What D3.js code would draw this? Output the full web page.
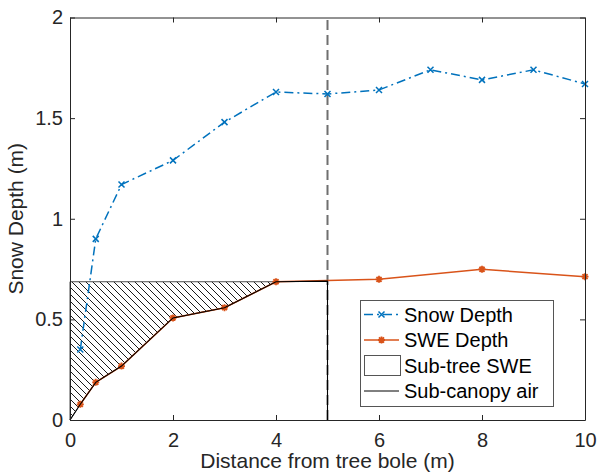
<!DOCTYPE html>
<html>
<head>
<meta charset="utf-8">
<script src="https://cdn.jsdelivr.net/npm/d3@7"></script>
<style>
  body { margin: 0; background: #fff; }
  text { font-family: "Liberation Sans", Arial, sans-serif; fill: #262626; }
</style>
</head>
<body>
<div id="vis"></div>
<script>
// data
const snowDist = [0.2, 0.5, 1, 2, 3, 4, 5, 6, 7, 8, 9, 10];
const snowDepth = [0.35, 0.90, 1.17, 1.29, 1.48, 1.63, 1.62, 1.64, 1.74, 1.69, 1.74, 1.67];
const sweDist = [0.2, 0.5, 1, 2, 3, 4, 6, 8, 10];
const sweDepth = [0.078, 0.187, 0.268, 0.507, 0.558, 0.687, 0.699, 0.749, 0.712];
const canopyEdge = 5;       // edge of the tree canopy (m)
const subTreeTop = 0.687;   // SWE level under the tree
const xTicks = [0, 2, 4, 6, 8, 10];
const yTicks = [0, 0.5, 1, 1.5, 2];
const legendLabels = ["Snow Depth", "SWE Depth", "Sub-tree SWE", "Sub-canopy air"];

const ctx = {
    w: 597,
    h: 476,
    left: 70,
    right: 585,
    top: 17.5,
    bottom: 420,
    axisColor: "#262626",
    blue: "#0072BD",
    orange: "#D95319"
};

function xMark(size) {
    return `M${-size},${-size}L${size},${size}M${-size},${size}L${size},${-size}`;
}
function starMark(size) {
    let s = size, d = size * 0.72;
    return `M${-s},0L${s},0M0,${-s}L0,${s}M${-d},${-d}L${d},${d}M${-d},${d}L${d},${-d}`;
}

function drawChart() {
    let svg = d3.select("#vis").append("svg")
        .attr("width", ctx.w)
        .attr("height", ctx.h);

    let x = d3.scaleLinear().domain([0, 10]).range([ctx.left, ctx.right]);
    let y = d3.scaleLinear().domain([0, 2]).range([ctx.bottom, ctx.top]);

    // hatch pattern for the sub-tree SWE area
    let defs = svg.append("defs");
    let pat = defs.append("pattern")
        .attr("id", "hatch")
        .attr("patternUnits", "userSpaceOnUse")
        .attr("width", 7)
        .attr("height", 7);
    pat.append("path")
        .attr("d", "M-1,-1L8,8M-1,6L1,8M6,-1L8,1")
        .attr("stroke", "#000")
        .attr("stroke-width", 0.9);

    let plot = svg.append("g");

    // sub-tree SWE polygon
    let sweByDist = sweDist.map((d, i) => [d, sweDepth[i]]);
    let under = sweByDist.filter(p => p[0] <= 4);
    let poly = [[0, subTreeTop], [4, subTreeTop]].concat(under.slice(0, -1).reverse()).concat([[0, 0]]);
    plot.append("path")
        .attr("d", d3.line().x(p => x(p[0])).y(p => y(p[1]))(poly) + "Z")
        .attr("fill", "url(#hatch)")
        .attr("stroke", "#4d4d4d")
        .attr("stroke-width", 1);

    // dashed canopy edge
    plot.append("line")
        .attr("x1", x(canopyEdge)).attr("x2", x(canopyEdge))
        .attr("y1", y(0)).attr("y2", y(2))
        .attr("stroke", "#6f6f6f")
        .attr("stroke-width", 2)
        .attr("stroke-dasharray", "10,5");

    // snow depth
    let snowPts = snowDist.map((d, i) => [d, snowDepth[i]]);
    plot.append("path")
        .attr("d", d3.line().x(p => x(p[0])).y(p => y(p[1]))(snowPts))
        .attr("fill", "none")
        .attr("stroke", ctx.blue)
        .attr("stroke-width", 1.5)
        .attr("stroke-dasharray", "9,4,2,4");
    plot.selectAll(".snowMk")
        .data(snowPts)
        .enter()
        .append("path")
        .attr("d", xMark(3))
        .attr("transform", p => `translate(${x(p[0])},${y(p[1])})`)
        .attr("stroke", ctx.blue)
        .attr("stroke-width", 1.5)
        .attr("fill", "none");

    // SWE depth
    plot.append("path")
        .attr("d", d3.line().x(p => x(p[0])).y(p => y(p[1]))(sweByDist))
        .attr("fill", "none")
        .attr("stroke", ctx.orange)
        .attr("stroke-width", 1.5);
    plot.selectAll(".sweMk")
        .data(sweByDist)
        .enter()
        .append("path")
        .attr("d", starMark(3.5))
        .attr("transform", p => `translate(${x(p[0])},${y(p[1])})`)
        .attr("stroke", ctx.orange)
        .attr("stroke-width", 1.8)
        .attr("fill", "none");

    // sub-canopy air outline
    let air = [[0, 0]].concat(under).concat([[canopyEdge, subTreeTop + 0.003], [canopyEdge, 0]]);
    plot.append("path")
        .attr("d", d3.line().x(p => x(p[0])).y(p => y(p[1]))(air))
        .attr("fill", "none")
        .attr("stroke", "#000")
        .attr("stroke-width", 1.1);

    // axes
    let axG = svg.append("g");
    axG.append("g")
        .attr("transform", `translate(0,${ctx.bottom})`)
        .call(d3.axisBottom(x).tickValues(xTicks).tickSize(-5).tickSizeOuter(0).tickPadding(13).tickFormat(d3.format("d")));
    axG.append("g")
        .attr("transform", `translate(0,${ctx.top})`)
        .call(d3.axisTop(x).tickValues(xTicks).tickSize(-5).tickSizeOuter(0).tickFormat(""));
    axG.append("g")
        .attr("transform", `translate(${ctx.left},0)`)
        .call(d3.axisLeft(y).tickValues(yTicks).tickSize(-5).tickSizeOuter(0).tickPadding(7).tickFormat(d => d3.format("")(d)));
    axG.append("g")
        .attr("transform", `translate(${ctx.right},0)`)
        .call(d3.axisRight(y).tickValues(yTicks).tickSize(-5).tickSizeOuter(0).tickFormat(""));
    axG.selectAll("path.domain, .tick line").attr("stroke", ctx.axisColor);
    axG.selectAll(".tick text")
        .attr("fill", ctx.axisColor)
        .attr("font-size", 20)
        .style("font-family", "Liberation Sans, Arial, sans-serif");

    // axis labels
    svg.append("text")
        .attr("x", (ctx.left + ctx.right) / 2)
        .attr("y", 468)
        .attr("text-anchor", "middle")
        .attr("font-size", 21)
        .text("Distance from tree bole (m)");
    svg.append("text")
        .attr("transform", `translate(23,${(ctx.top + ctx.bottom) / 2}) rotate(-90)`)
        .attr("text-anchor", "middle")
        .attr("font-size", 21)
        .text("Snow Depth (m)");

    addLegend(svg);
}

function addLegend(svg) {
    let lg = svg.append("g").attr("class", "legend");
    lg.append("rect")
        .attr("x", 360.5).attr("y", 300.5)
        .attr("width", 193).attr("height", 106)
        .attr("fill", "#fff")
        .attr("stroke", "#555")
        .attr("stroke-width", 1);

    let rowY = i => 314.5 + i * 25.5;
    let x0 = 364, x1 = 399, xm = (x0 + x1) / 2;

    // snow depth sample
    lg.append("line").attr("x1", x0).attr("x2", x1).attr("y1", rowY(0)).attr("y2", rowY(0))
        .attr("stroke", ctx.blue).attr("stroke-width", 1.5).attr("stroke-dasharray", "9,4,2,4");
    lg.append("path").attr("d", xMark(3)).attr("transform", `translate(${xm},${rowY(0)})`)
        .attr("stroke", ctx.blue).attr("stroke-width", 1.5);
    // SWE sample
    lg.append("line").attr("x1", x0).attr("x2", x1).attr("y1", rowY(1)).attr("y2", rowY(1))
        .attr("stroke", ctx.orange).attr("stroke-width", 1.5);
    lg.append("path").attr("d", starMark(3.5)).attr("transform", `translate(${xm},${rowY(1)})`)
        .attr("stroke", ctx.orange).attr("stroke-width", 1.8);
    // sub-tree SWE sample
    lg.append("rect").attr("x", x0 + 0.5).attr("y", rowY(2) - 10).attr("width", 36).attr("height", 20)
        .attr("fill", "#fff").attr("stroke", "#555").attr("stroke-width", 1);
    // sub-canopy air sample
    lg.append("line").attr("x1", x0).attr("x2", x1).attr("y1", rowY(3)).attr("y2", rowY(3))
        .attr("stroke", "#000").attr("stroke-width", 1);

    lg.selectAll(".lgText")
        .data(legendLabels)
        .enter()
        .append("text")
        .attr("x", 404)
        .attr("y", (d, i) => rowY(i))
        .attr("dy", "0.35em")
        .attr("font-size", 20)
        .style("fill", "#000")
        .text(d => d);
}

drawChart();
</script>
</body>
</html>
